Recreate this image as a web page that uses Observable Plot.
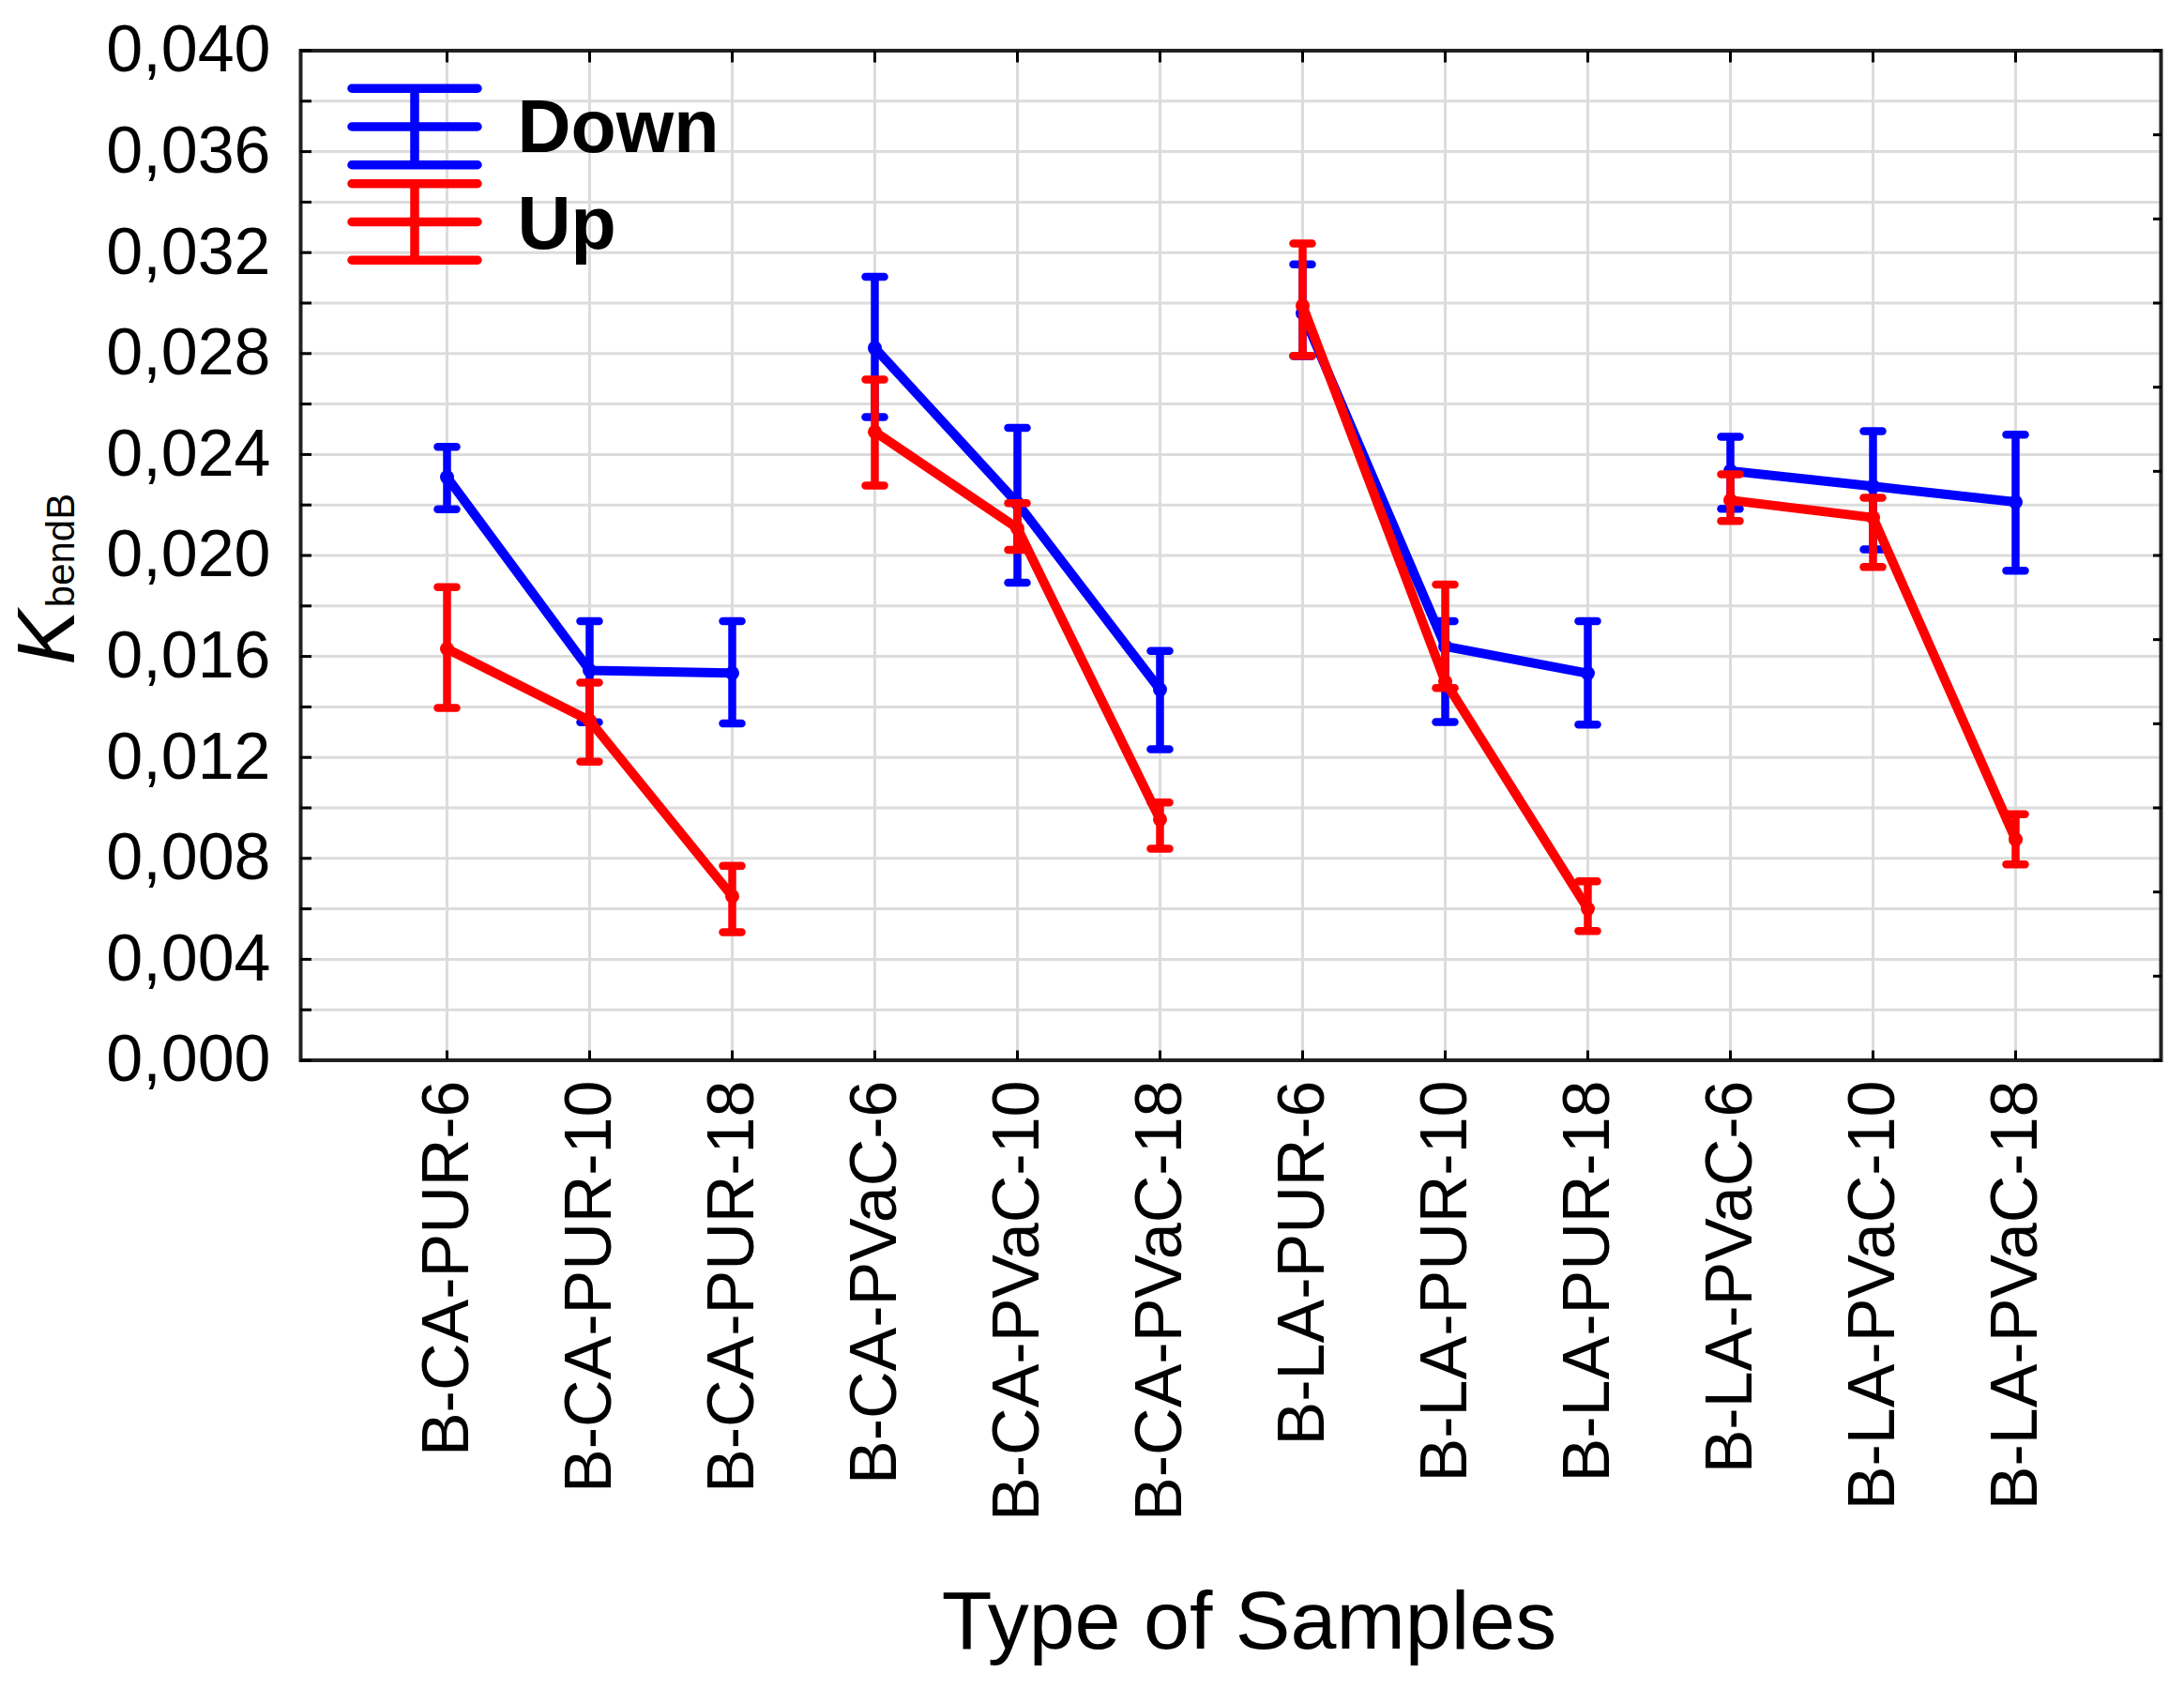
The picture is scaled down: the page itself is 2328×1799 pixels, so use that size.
<!DOCTYPE html>
<html>
<head>
<meta charset="utf-8">
<script src="https://cdn.jsdelivr.net/npm/d3@7"></script>
<script src="https://cdn.jsdelivr.net/npm/@observablehq/plot@0.6"></script>
<style>
  html, body { margin: 0; padding: 0; background: #fff; }
  #chart svg { display: block; }
</style>
</head>
<body>
<div id="chart"></div>
<script>
// ---- data ----
const categories = [
  "B-CA-PUR-6", "B-CA-PUR-10", "B-CA-PUR-18",
  "B-CA-PVaC-6", "B-CA-PVaC-10", "B-CA-PVaC-18",
  "B-LA-PUR-6", "B-LA-PUR-10", "B-LA-PUR-18",
  "B-LA-PVaC-6", "B-LA-PVaC-10", "B-LA-PVaC-18"
];
const seriesNames = ["Down", "Up"];
const seriesColors = ["#0000ff", "#ff0000"];

const downMean = [0.02310, 0.01545, 0.01534, 0.02822, 0.02207, 0.01469, 0.02960, 0.01640, 0.01533, 0.02335, 0.02274, 0.02212];
const downLo   = [0.02183, 0.01339, 0.01335, 0.02548, 0.01892, 0.01232, 0.02790, 0.01340, 0.01330, 0.02185, 0.02024, 0.01940];
const downHi   = [0.02430, 0.01740, 0.01740, 0.03104, 0.02506, 0.01622, 0.03153, 0.01740, 0.01740, 0.02470, 0.02493, 0.02479];

const upMean = [0.01630, 0.01346, 0.00650, 0.02490, 0.02108, 0.00954, 0.02990, 0.01500, 0.00600, 0.02219, 0.02150, 0.00875];
const upLo   = [0.01396, 0.01183, 0.00507, 0.02277, 0.02022, 0.00838, 0.02791, 0.01475, 0.00512, 0.02137, 0.01954, 0.00776];
const upHi   = [0.01875, 0.01496, 0.00770, 0.02697, 0.02207, 0.01021, 0.03236, 0.01885, 0.00709, 0.02322, 0.02229, 0.00975];

const yLabelTicks = [0, 0.004, 0.008, 0.012, 0.016, 0.020, 0.024, 0.028, 0.032, 0.036, 0.040];
const yMinorTicks = [0, 0.002, 0.004, 0.006, 0.008, 0.010, 0.012, 0.014, 0.016, 0.018, 0.020,
                     0.022, 0.024, 0.026, 0.028, 0.030, 0.032, 0.034, 0.036, 0.038, 0.040];
const rightTicks = d3.range(13).map(i => i * 0.040 / 12);

// ---- tables ----
function table(mean, lo, hi) {
  return categories.map((c, i) => ({
    cat: c,
    group: c.replace(/-\d+$/, ""),
    mean: mean[i], lo: lo[i], hi: hi[i]
  }));
}
const series = [table(downMean, downLo, downHi), table(upMean, upLo, upHi)];

// ---- custom symbols ----
const capSymbol = {
  draw(ctx, size) {
    const r = Math.sqrt(size / Math.PI);
    ctx.moveTo(-r, 0); ctx.lineTo(r, 0);
  }
};
const legendSymbol = {
  draw(ctx, size) {
    const r = Math.sqrt(size / Math.PI);
    const h = r * 0.608;
    ctx.moveTo(-r, -h); ctx.lineTo(r, -h);
    ctx.moveTo(-r, 0); ctx.lineTo(r, 0);
    ctx.moveTo(-r, h); ctx.lineTo(r, h);
    ctx.moveTo(0, -h); ctx.lineTo(0, h);
  }
};

const fmt = d => d.toFixed(3).replace(".", ",");
const LW = 10;   // line width
const EW = 8.5;  // error bar width

const seriesMarks = series.flatMap((data, k) => {
  const color = seriesColors[k];
  return [
    Plot.line(data, {x: "cat", y: "mean", z: "group", stroke: color, strokeWidth: LW, strokeLinejoin: "round", strokeLinecap: "round"}),
    Plot.ruleX(data, {x: "cat", y1: "lo", y2: "hi", stroke: color, strokeWidth: EW}),
    Plot.dot(data, {x: "cat", y: "lo", symbol: capSymbol, r: 10, fill: "none", stroke: color, strokeWidth: EW, strokeLinecap: "round"}),
    Plot.dot(data, {x: "cat", y: "hi", symbol: capSymbol, r: 10, fill: "none", stroke: color, strokeWidth: EW, strokeLinecap: "round"}),
    Plot.dot(data, {x: "cat", y: "mean", r: 7.5, fill: color, stroke: "none"})
  ];
});

const legendMarks = seriesNames.flatMap((name, k) => [
  Plot.dot([name], {frameAnchor: "top-left", dx: 121.5, dy: 81 + k * 101.5, symbol: legendSymbol, r: 67,
    fill: "none", stroke: seriesColors[k], strokeWidth: 9.5, strokeLinecap: "round"}),
  Plot.text([name], {frameAnchor: "top-left", dx: 231, dy: 107.5 + k * 103, text: d => d,
    fontSize: 79, fontWeight: "bold", textAnchor: "start", lineAnchor: "bottom", fill: "black"})
]);

const chart = Plot.plot({
  width: 2328,
  height: 1799,
  marginTop: 53.5,
  marginBottom: 669.5,
  marginLeft: 320,
  marginRight: 25,
  style: {fontFamily: "'Liberation Sans', Arial, sans-serif", background: "white", color: "black"},
  x: {type: "point", domain: categories, padding: 1},
  y: {domain: [0, 0.040]},
  marks: [
    Plot.gridY({ticks: yMinorTicks, stroke: "#dcdcdc", strokeOpacity: 1, strokeWidth: 3}),
    Plot.gridX({stroke: "#dcdcdc", strokeOpacity: 1, strokeWidth: 3}),
    Plot.frame({stroke: "#222", strokeWidth: 4}),
    // left axis labels
    Plot.axisY({ticks: yLabelTicks, tickSize: 0, tickPadding: 32, tickFormat: fmt, fontSize: 70, label: null}),
    // left inward ticks
    Plot.axisY({ticks: yMinorTicks, tickSize: -12, tickFormat: () => "", strokeWidth: 3, label: null}),
    // right inward ticks
    Plot.axisY({anchor: "right", ticks: rightTicks, tickSize: -9, tickFormat: () => "", strokeWidth: 3, label: null}),
    // bottom axis
    Plot.axisX({anchor: "bottom", tickSize: -10, tickPadding: 31.5, tickRotate: -90, fontSize: 70, strokeWidth: 3, label: null}),
    // top inward ticks
    Plot.axisX({anchor: "top", tickSize: -12, tickFormat: () => "", strokeWidth: 3, label: null}),
    ...seriesMarks,
    ...legendMarks,
    // y axis title  K_bendB
    Plot.text(["K"], {frameAnchor: "left", dx: -242, dy: 87.5, rotate: -90, text: d => d, fontSize: 88,
      fontStyle: "italic", textAnchor: "middle", lineAnchor: "bottom", fill: "black"}),
    Plot.text(["bendB"], {frameAnchor: "left", dx: -242, dy: -5.5, rotate: -90, text: d => d, fontSize: 42,
      textAnchor: "middle", lineAnchor: "bottom", fill: "black"}),
    // x axis title
    Plot.text(["Type of Samples"], {frameAnchor: "bottom", dx: 19.5, dy: 626.5, text: d => d, fontSize: 88,
      textAnchor: "middle", lineAnchor: "bottom", fill: "black"})
  ]
});
document.getElementById("chart").appendChild(chart);
</script>
</body>
</html>
